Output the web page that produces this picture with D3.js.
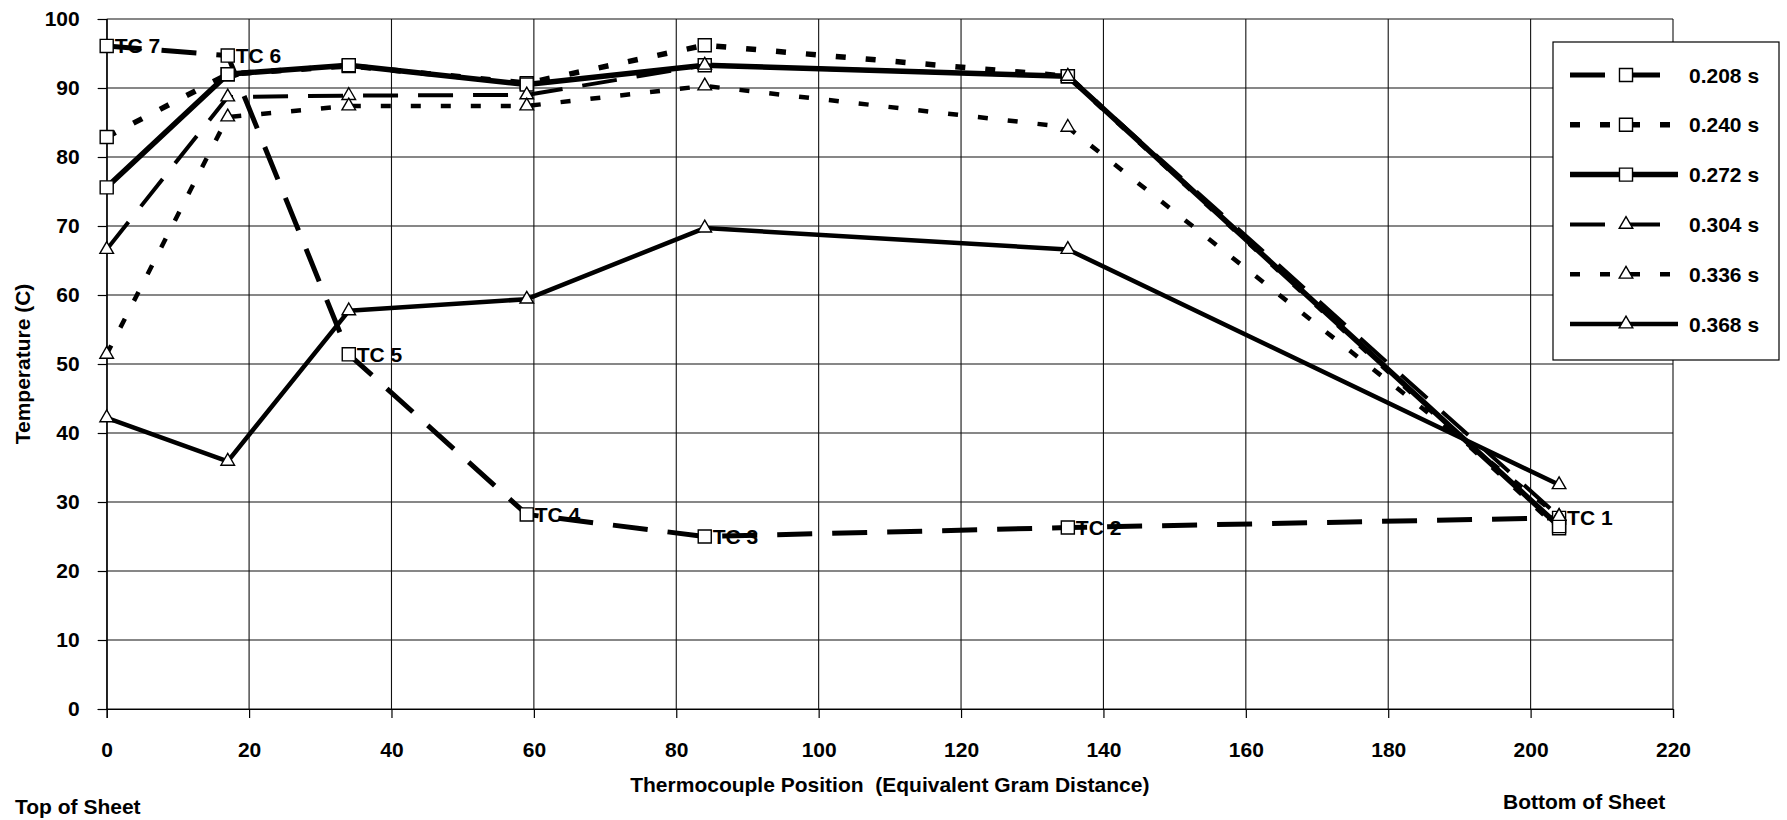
<!DOCTYPE html>
<html>
<head>
<meta charset="utf-8">
<script src="https://cdn.jsdelivr.net/npm/d3@7"></script>
<style>
body { margin: 0; background: #fff; }
svg { display: block; font-family: "Liberation Sans", Arial, sans-serif; }
</style>
</head>
<body>
<svg id="chart" width="1787" height="820"></svg>
<script>
// thermocouple positions and labels
var positions = [0, 17, 34, 59, 84, 135, 204];
var tcLabels = ["TC 7", "TC 6", "TC 5", "TC 4", "TC 3", "TC 2", "TC 1"];

// temperatures per time step
var seriesNames = ["0.208 s", "0.240 s", "0.272 s", "0.304 s", "0.336 s", "0.368 s"];
var temps208 = [96.1, 94.7, 51.4, 28.2, 25.0, 26.3, 27.7];
var temps240 = [82.9, 92.0, 93.2, 90.7, 96.2, 91.7, 26.2];
var temps272 = [75.6, 92.0, 93.3, 90.5, 93.3, 91.7, 26.5];
var temps304 = [66.6, 88.7, 88.9, 89.0, 93.3, 91.7, 27.9];
var temps336 = [51.4, 85.8, 87.4, 87.4, 90.3, 84.3, 27.9];
var temps368 = [42.2, 35.9, 57.7, 59.4, 69.7, 66.6, 32.5];

var xTickValues = [0, 20, 40, 60, 80, 100, 120, 140, 160, 180, 200, 220];
var yTickValues = [0, 10, 20, 30, 40, 50, 60, 70, 80, 90, 100];

var allTemps = [temps208, temps240, temps272, temps304, temps336, temps368];

// line look for each series
var lineStyles = [
	{dash: "35,20", width: 5, marker: "square"},
	{dash: "10,20", width: 5.5, marker: "square"},
	{dash: null, width: 5.5, marker: "square"},
	{dash: "35,20", width: 4, marker: "triangle"},
	{dash: "10,20", width: 4.5, marker: "triangle"},
	{dash: null, width: 4.5, marker: "triangle"}
];

var svg = d3.select("#chart");
var font = 21;

var x = d3.scaleLinear().domain([0, 220]).range([106.7, 1673]);
var y = d3.scaleLinear().domain([0, 100]).range([709, 19]);

// grid
var grid = svg.append("g").attr("stroke", "#111").attr("stroke-width", 1.1);
grid.selectAll("line.h").data(yTickValues).enter().append("line")
	.attr("x1", x(0)).attr("x2", x(220))
	.attr("y1", function(d) { return y(d); }).attr("y2", function(d) { return y(d); });
grid.selectAll("line.v").data(xTickValues).enter().append("line")
	.attr("y1", y(0)).attr("y2", y(100))
	.attr("x1", function(d) { return x(d); }).attr("x2", function(d) { return x(d); });

// axes
var xAxis = d3.axisBottom(x).tickValues(xTickValues).tickSize(9).tickPadding(24);
var yAxis = d3.axisLeft(y).tickValues(yTickValues).tickSize(9).tickPadding(18);

svg.append("g").attr("transform", "translate(0," + y(0) + ")").call(xAxis)
	.call(function(g) { g.select(".domain").attr("stroke-width", 1.2); });
svg.append("g").attr("transform", "translate(" + x(0) + ",0)").call(yAxis)
	.call(function(g) { g.select(".domain").attr("stroke-width", 1.2); });

svg.selectAll(".tick text").attr("font-size", font).attr("font-weight", "bold")
	.attr("font-family", "'Liberation Sans', Arial, sans-serif").attr("fill", "#000");
svg.selectAll(".tick line").attr("stroke", "#000").attr("stroke-width", 1.2);

// titles
svg.append("text").attr("x", (x(0) + x(220)) / 2).attr("y", 792)
	.attr("text-anchor", "middle").attr("font-size", font).attr("font-weight", "bold")
	.text("Thermocouple Position  (Equivalent Gram Distance)").style("white-space", "pre");
svg.append("text").attr("transform", "translate(30," + (y(0) + y(100)) / 2 + ") rotate(-90)")
	.attr("text-anchor", "middle").attr("font-size", font).attr("font-weight", "bold")
	.text("Temperature (C)");
svg.append("text").attr("x", 15).attr("y", 814)
	.attr("font-size", font).attr("font-weight", "bold").text("Top of Sheet");
svg.append("text").attr("x", 1503).attr("y", 809)
	.attr("font-size", font).attr("font-weight", "bold").text("Bottom of Sheet");

function markerPath(kind) {
	if (kind == "square") return d3.symbol().type(d3.symbolSquare).size(170)();
	return d3.symbol().type(d3.symbolTriangle).size(80)();
}

var line = d3.line()
	.x(function(d) { return x(d[0]); })
	.y(function(d) { return y(d[1]); });

// series
allTemps.forEach(function(temps, i) {
	var st = lineStyles[i];
	var pts = positions.map(function(p, j) { return [p, temps[j]]; });
	var g = svg.append("g");
	g.append("path").attr("d", line(pts)).attr("fill", "none")
		.attr("stroke", "#000").attr("stroke-width", st.width)
		.attr("stroke-dasharray", st.dash).attr("stroke-linejoin", "round");
	g.selectAll("path.m").data(pts).enter().append("path")
		.attr("d", markerPath(st.marker))
		.attr("transform", function(d) { return "translate(" + x(d[0]) + "," + y(d[1]) + ")"; })
		.attr("fill", "#fff").attr("stroke", "#000").attr("stroke-width", 1.4);
});

// TC labels on the first series
svg.append("g").selectAll("text").data(positions).enter().append("text")
	.attr("x", function(d) { return x(d) + 8; })
	.attr("y", function(d, i) { return y(temps208[i]); })
	.attr("dy", "0.36em").attr("font-size", font).attr("font-weight", "bold")
	.text(function(d, i) { return tcLabels[i]; });

// legend
var legend = svg.append("g");
legend.append("rect").attr("x", 1553).attr("y", 42).attr("width", 226).attr("height", 318)
	.attr("fill", "#fff").attr("stroke", "#000").attr("stroke-width", 1.2);
seriesNames.forEach(function(name, i) {
	var st = lineStyles[i];
	var ly = 75 + i * 49.8;
	legend.append("line").attr("x1", 1570).attr("x2", 1678).attr("y1", ly).attr("y2", ly)
		.attr("stroke", "#000").attr("stroke-width", st.width).attr("stroke-dasharray", st.dash);
	legend.append("path").attr("d", markerPath(st.marker))
		.attr("transform", "translate(1626," + ly + ")")
		.attr("fill", "#fff").attr("stroke", "#000").attr("stroke-width", 1.4);
	legend.append("text").attr("x", 1689).attr("y", ly).attr("dy", "0.36em")
		.attr("font-size", font).attr("font-weight", "bold").text(name);
});
</script>
</body>
</html>
